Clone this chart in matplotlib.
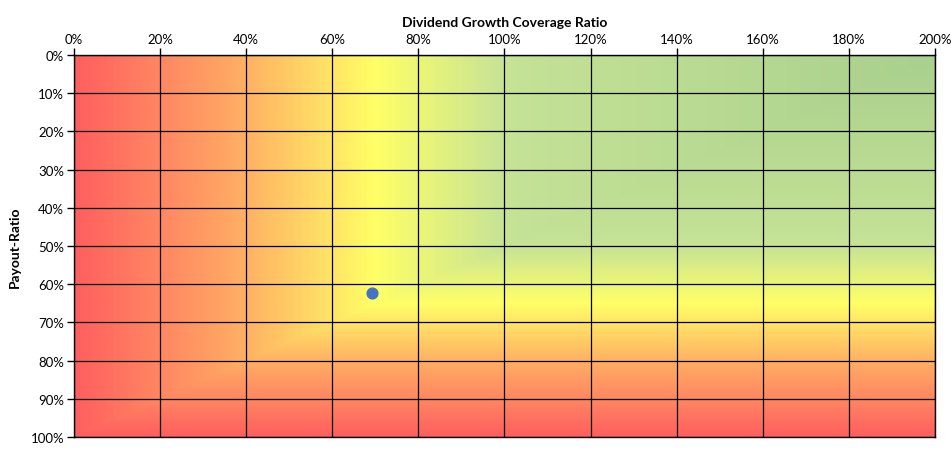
import numpy as np
import matplotlib.pyplot as plt
from matplotlib.colors import LinearSegmentedColormap

# data
x_ticks = [0, 20, 40, 60, 80, 100, 120, 140, 160, 180, 200]
y_ticks = [0, 10, 20, 30, 40, 50, 60, 70, 80, 90, 100]
point_x = [69.3]
point_y = [62.3]

# score anchors for the coloured background (0 = red, 1 = green)
h_pos = [0, 70, 100, 200]
h_score = [0.0, 0.5, 0.75, 1.0]
v_pos = [0, 50, 65, 100]
v_score = [1.0, 0.75, 0.5, 0.0]

cmap = LinearSegmentedColormap.from_list("rag", [
    (0.0, "#ff5f5f"),
    (0.25, "#ffa564"),
    (0.5, "#ffff66"),
    (0.75, "#c6e396"),
    (1.0, "#a9d08e"),
])

plt.rcParams['font.family'] = ['Lato', 'DejaVu Sans']

fig = plt.figure(figsize=(9.52, 4.52), dpi=100)
ax = fig.add_axes([0.0777, 0.031, 0.9043, 0.845])

xs = np.linspace(0, 200, 600)
ys = np.linspace(0, 100, 400)
X, Y = np.meshgrid(xs, ys)
score = np.minimum(np.interp(X, h_pos, h_score), np.interp(Y, v_pos, v_score))
ax.imshow(score, cmap=cmap, vmin=0, vmax=1, extent=[0, 200, 100, 0],
          aspect="auto", interpolation="bilinear", zorder=0)

ax.set_xlim(0, 200)
ax.set_ylim(100, 0)
ax.xaxis.tick_top()
ax.xaxis.set_label_position("top")
ax.set_xticks(x_ticks)
ax.set_xticklabels([f"{v}%" for v in x_ticks])
ax.set_yticks(y_ticks)
ax.set_yticklabels([f"{v}%" for v in y_ticks])
ax.tick_params(axis="both", labelsize=9.5, length=5, width=1, color="black", pad=2)
ax.grid(True, color="black", linewidth=0.9)
ax.set_axisbelow(False)
for s in ax.spines.values():
    s.set_color("black")
    s.set_linewidth(1)

ax.set_xlabel("Dividend Growth Coverage Ratio", fontsize=10, fontweight="bold", labelpad=5)
ax.set_ylabel("Payout-Ratio", fontsize=10, fontweight="bold", labelpad=7)

ax.scatter(point_x, point_y, s=60, color="#4472c4", zorder=5)

fig.savefig("out.png", dpi=100)
